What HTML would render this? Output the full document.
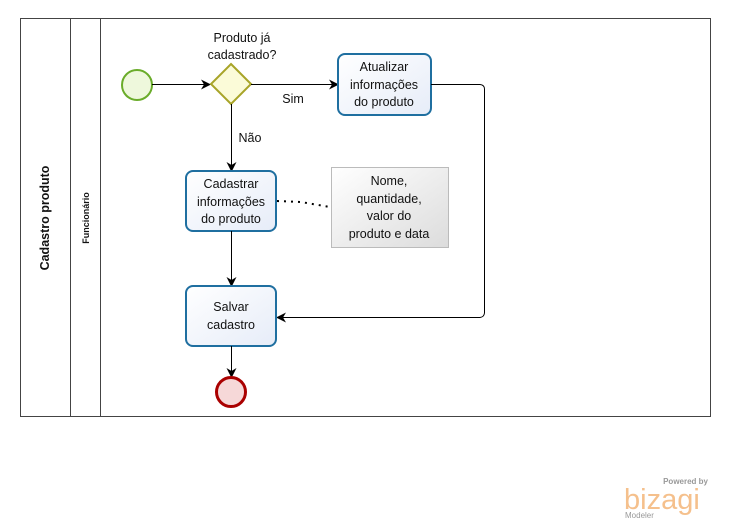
<!DOCTYPE html>
<html><head><meta charset="utf-8"><style>
html,body{margin:0;padding:0;background:#fff;width:731px;height:530px;overflow:hidden}
text{font-family:"Liberation Sans","DejaVu Sans",sans-serif;font-size:12.5px;fill:#111}
</style></head><body>
<svg width="731" height="530" viewBox="0 0 731 530" xmlns="http://www.w3.org/2000/svg">
<defs>
<linearGradient id="tg" x1="0" y1="0" x2="1" y2="1"><stop offset="0" stop-color="#fff"/><stop offset="1" stop-color="#e6ecf8"/></linearGradient>
<linearGradient id="ag" x1="0" y1="0" x2="1" y2="1"><stop offset="0" stop-color="#fff"/><stop offset="1" stop-color="#dcdcdc"/></linearGradient>
<marker id="ar" markerWidth="10" markerHeight="10" refX="9" refY="5" orient="auto" markerUnits="userSpaceOnUse"><path d="M0,0 L10,5 L0,10 L3,5 Z" fill="#000"/></marker>
</defs>
<rect x="20.5" y="18.5" width="690" height="398" fill="#fff" stroke="#444"/>
<line x1="70.5" y1="18" x2="70.5" y2="417" stroke="#444"/>
<line x1="100.5" y1="18" x2="100.5" y2="417" stroke="#444"/>
<text x="49" y="218" text-anchor="middle" transform="rotate(-90 49 218)" style="font-weight:bold">Cadastro produto</text>
<text x="89" y="218" text-anchor="middle" transform="rotate(-90 89 218)" style="font-weight:bold;font-size:9px">Funcionário</text>
<circle cx="137" cy="85" r="15" fill="#eef8dc" stroke="#6aac2a" stroke-width="2"/>
<line x1="152" y1="84.5" x2="210" y2="84.5" stroke="#000" marker-end="url(#ar)"/>
<polygon points="231,64 251,84 231,104 211,84" fill="#fbfbd8" stroke="#a8a428" stroke-width="2"/>
<text x="242" y="42" text-anchor="middle">Produto já</text>
<text x="242" y="59" text-anchor="middle">cadastrado?</text>
<line x1="251" y1="84.5" x2="338" y2="84.5" stroke="#000" marker-end="url(#ar)"/>
<text x="293" y="103" text-anchor="middle">Sim</text>
<line x1="231.5" y1="104" x2="231.5" y2="171" stroke="#000" marker-end="url(#ar)"/>
<text x="250" y="142" text-anchor="middle">Não</text>
<rect x="338" y="54" width="93" height="61" rx="7" fill="url(#tg)" stroke="#1f6fa0" stroke-width="2"/>
<text x="384" y="71" text-anchor="middle">Atualizar</text>
<text x="384" y="89" text-anchor="middle">informações</text>
<text x="384" y="106" text-anchor="middle">do produto</text>
<path d="M431,84.5 H480 Q484.5,85 484.5,89 V313 Q484,317 480,317.5 H277" fill="none" stroke="#000" marker-end="url(#ar)"/>
<rect x="186" y="171" width="90" height="60" rx="7" fill="url(#tg)" stroke="#1f6fa0" stroke-width="2"/>
<text x="231" y="188" text-anchor="middle">Cadastrar</text>
<text x="231" y="206" text-anchor="middle">informações</text>
<text x="231" y="223" text-anchor="middle">do produto</text>
<path d="M277,201 L301,202 L330,207" fill="none" stroke="#000" stroke-width="2" stroke-dasharray="2,5"/>
<rect x="331.5" y="167.5" width="117" height="80" fill="url(#ag)" stroke="#bbb"/>
<text x="389" y="185" text-anchor="middle">Nome,</text>
<text x="389" y="203" text-anchor="middle">quantidade,</text>
<text x="389" y="220" text-anchor="middle">valor do</text>
<text x="389" y="238" text-anchor="middle">produto e data</text>
<line x1="231.5" y1="231" x2="231.5" y2="286" stroke="#000" marker-end="url(#ar)"/>
<rect x="186" y="286" width="90" height="60" rx="7" fill="url(#tg)" stroke="#1f6fa0" stroke-width="2"/>
<text x="231" y="311" text-anchor="middle">Salvar</text>
<text x="231" y="329" text-anchor="middle">cadastro</text>
<line x1="231.5" y1="346" x2="231.5" y2="377" stroke="#000" marker-end="url(#ar)"/>
<circle cx="231" cy="392" r="14.5" fill="#f6d8d8" stroke="#a00" stroke-width="3"/>
<text x="708" y="484" text-anchor="end" style="font-size:8px;fill:#999;font-weight:bold">Powered by</text>
<text x="624" y="509" style="font-size:29px;fill:#f5c08c">bizagi</text>
<text x="625" y="518" style="font-size:8px;fill:#999">Modeler</text>
</svg>
</body></html>
